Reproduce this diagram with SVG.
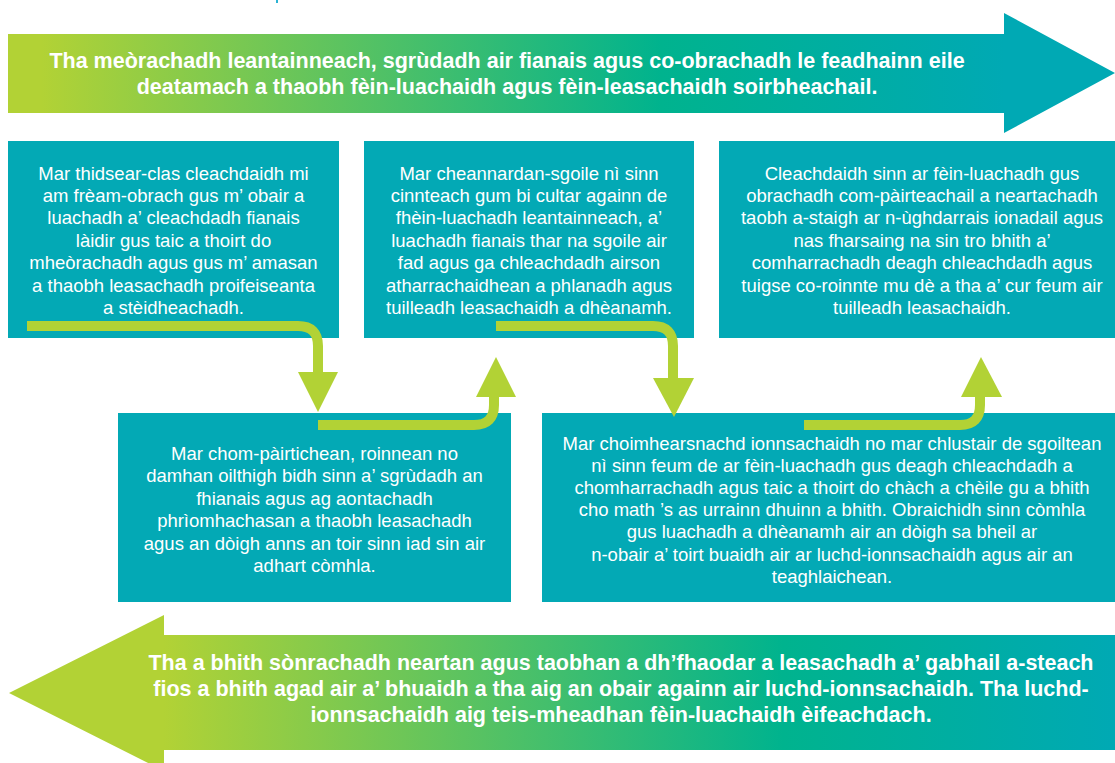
<svg xmlns="http://www.w3.org/2000/svg" width="1115" height="763" viewBox="0 0 1115 763">
<defs>
<linearGradient id="gTop" gradientUnits="userSpaceOnUse" x1="8" y1="0" x2="1115" y2="0">
<stop offset="0" stop-color="#B2D235"/>
<stop offset="0.03" stop-color="#B2D235"/>
<stop offset="0.59" stop-color="#00B38E"/>
<stop offset="0.9" stop-color="#00A9B4"/>
<stop offset="1" stop-color="#00A9B4"/>
</linearGradient>
<linearGradient id="gBot" gradientUnits="userSpaceOnUse" x1="9" y1="0" x2="1115" y2="0">
<stop offset="0" stop-color="#B2D235"/>
<stop offset="0.14" stop-color="#B2D235"/>
<stop offset="0.70" stop-color="#00B38E"/>
<stop offset="1" stop-color="#00A9B4"/>
</linearGradient>
</defs>
<style>
.box{fill:#03A9B5}
.bt{font-family:"Liberation Sans",Arial,sans-serif;font-size:18.5px;fill:#FFFFFF;text-anchor:middle}
.ht{font-family:"Liberation Sans",Arial,sans-serif;font-size:21.5px;font-weight:bold;fill:#FFFFFF;text-anchor:middle}
.cl{fill:none;stroke:#B2D235;stroke-width:10}
.ch{fill:#B2D235}
</style>
<rect x="276" y="0" width="2" height="3" fill="#2BB3D3"/>
<g id="top-arrow">
<polygon points="8,34 1004,34 1004,13 1115,73 1004,133 1004,113 8,113" fill="url(#gTop)"/>
<text class="ht" x="507" y="68">Tha meòrachadh leantainneach, sgrùdadh air fianais agus co-obrachadh le feadhainn eile</text>
<text class="ht" x="507" y="94">deatamach a thaobh fèin-luachaidh agus fèin-leasachaidh soirbheachail.</text>
</g>
<g id="box1">
<rect class="box" x="8" y="141" width="331" height="197"/>
<text class="bt" x="173.5" y="179.5">Mar thidsear-clas cleachdaidh mi</text>
<text class="bt" x="173.5" y="201.9">am frèam-obrach gus m’ obair a</text>
<text class="bt" x="173.5" y="224.3">luachadh a’ cleachdadh fianais</text>
<text class="bt" x="173.5" y="246.7">làidir gus taic a thoirt do</text>
<text class="bt" x="173.5" y="269.1">mheòrachadh agus gus m’ amasan</text>
<text class="bt" x="173.5" y="291.5">a thaobh leasachadh proifeiseanta</text>
<text class="bt" x="173.5" y="313.9">a stèidheachadh.</text>
</g>
<g id="box2">
<rect class="box" x="364" y="141" width="330" height="197"/>
<text class="bt" x="529" y="179.5">Mar cheannardan-sgoile nì sinn</text>
<text class="bt" x="529" y="201.9">cinnteach gum bi cultar againn de</text>
<text class="bt" x="529" y="224.3">fhèin-luachadh leantainneach, a’</text>
<text class="bt" x="529" y="246.7">luachadh fianais thar na sgoile air</text>
<text class="bt" x="529" y="269.1">fad agus ga chleachdadh airson</text>
<text class="bt" x="529" y="291.5">atharrachaidhean a phlanadh agus</text>
<text class="bt" x="529" y="313.9">tuilleadh leasachaidh a dhèanamh.</text>
</g>
<g id="box3">
<rect class="box" x="719" y="141" width="396" height="197"/>
<text class="bt" x="922" y="179.5">Cleachdaidh sinn ar fèin-luachadh gus</text>
<text class="bt" x="922" y="201.9">obrachadh com-pàirteachail a neartachadh</text>
<text class="bt" x="922" y="224.3">taobh a-staigh ar n-ùghdarrais ionadail agus</text>
<text class="bt" x="922" y="246.7">nas fharsaing na sin tro bhith a’</text>
<text class="bt" x="922" y="269.1">comharrachadh deagh chleachdadh agus</text>
<text class="bt" x="922" y="291.5">tuigse co-roinnte mu dè a tha a’ cur feum air</text>
<text class="bt" x="922" y="313.9">tuilleadh leasachaidh.</text>
</g>
<g id="box4">
<rect class="box" x="118" y="413" width="393" height="189"/>
<text class="bt" x="314.5" y="460">Mar chom-pàirtichean, roinnean no</text>
<text class="bt" x="314.5" y="482.4">damhan oilthigh bidh sinn a’ sgrùdadh an</text>
<text class="bt" x="314.5" y="504.8">fhianais agus ag aontachadh</text>
<text class="bt" x="314.5" y="527.2">phrìomhachasan a thaobh leasachadh</text>
<text class="bt" x="314.5" y="549.6">agus an dòigh anns an toir sinn iad sin air</text>
<text class="bt" x="314.5" y="572">adhart còmhla.</text>
</g>
<g id="box5">
<rect class="box" x="542" y="413" width="573" height="189"/>
<text class="bt" x="832" y="449.5">Mar choimhearsnachd ionnsachaidh no mar chlustair de sgoiltean</text>
<text class="bt" x="832" y="471.7">nì sinn feum de ar fèin-luachadh gus deagh chleachdadh a</text>
<text class="bt" x="832" y="493.9">chomharrachadh agus taic a thoirt do chàch a chèile gu a bhith</text>
<text class="bt" x="832" y="516.1">cho math ’s as urrainn dhuinn a bhith. Obraichidh sinn còmhla</text>
<text class="bt" x="832" y="538.3">gus luachadh a dhèanamh air an dòigh sa bheil ar</text>
<text class="bt" x="832" y="560.5">n-obair a’ toirt buaidh air ar luchd-ionnsachaidh agus air an</text>
<text class="bt" x="832" y="582.7">teaghlaichean.</text>
</g>
<g id="connectors">
<path class="cl" d="M27,326 H298 Q318,326 318,346 V374"/>
<polygon class="ch" points="298,372 338,372 318,412"/>
<path class="cl" d="M318,425 H474 Q494,425 494,405 V395"/>
<polygon class="ch" points="476,397 516,397 496,357"/>
<path class="cl" d="M496,326 H653 Q673,326 673,346 V380"/>
<polygon class="ch" points="653,378 694,378 674,417"/>
<path class="cl" d="M804,425 H960 Q980,425 980,405 V395"/>
<polygon class="ch" points="961,397 1002,397 981,357"/>
</g>
<g id="bottom-arrow">
<polygon points="1115,635 164,635 164,615 9,693 164,771 164,750 1115,750" fill="url(#gBot)"/>
<text class="ht" x="621" y="670">Tha a bhith sònrachadh neartan agus taobhan a dh’fhaodar a leasachadh a’ gabhail a-steach</text>
<text class="ht" x="621" y="696">fios a bhith agad air a’ bhuaidh a tha aig an obair againn air luchd-ionnsachaidh. Tha luchd-</text>
<text class="ht" x="621" y="722">ionnsachaidh aig teis-mheadhan fèin-luachaidh èifeachdach.</text>
</g>
</svg>
